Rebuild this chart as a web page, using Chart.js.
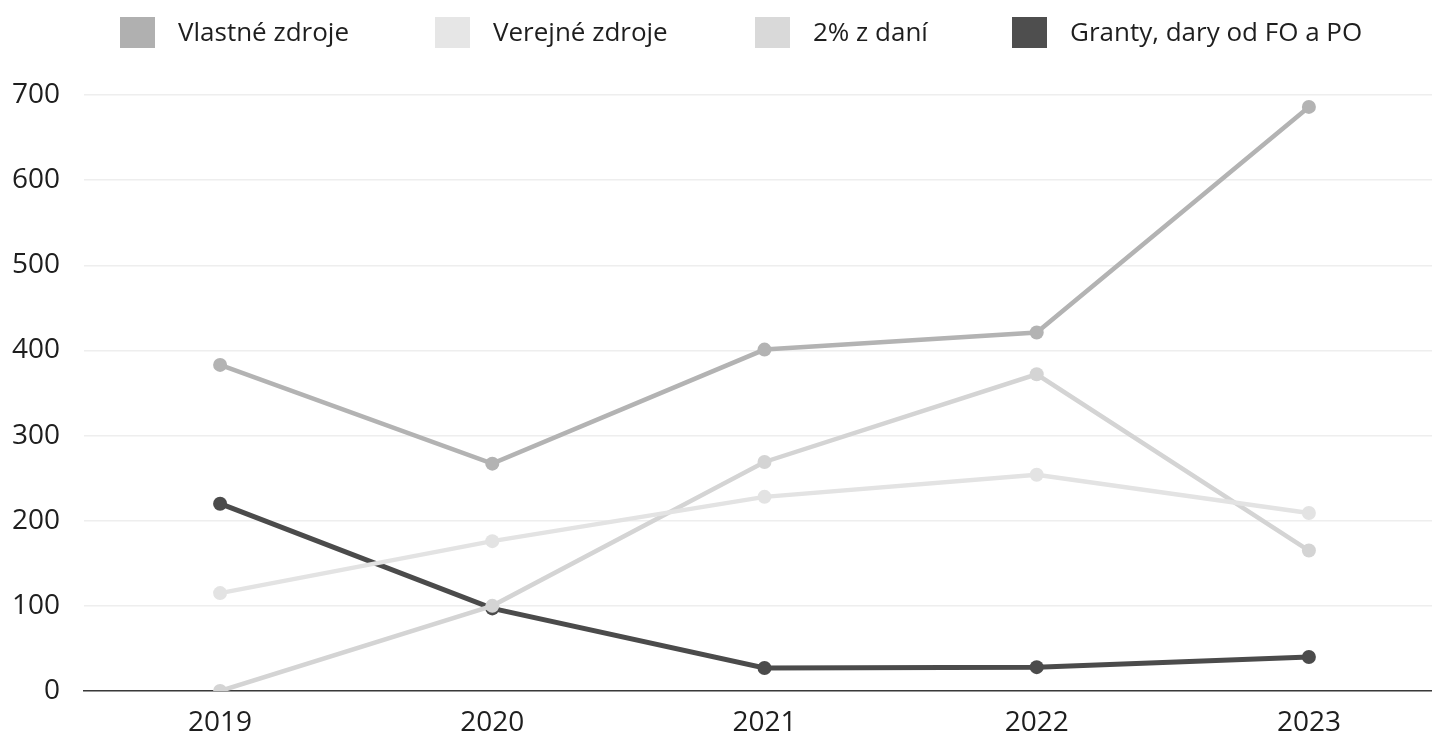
<!DOCTYPE html>
<html>
<head>
<meta charset="utf-8">
<script src="https://cdn.jsdelivr.net/npm/chart.js@4"></script>
<style>
html,body{margin:0;padding:0;background:#fff;overflow:hidden;}
#wrap{position:relative;width:1432px;height:737px;overflow:hidden;}
#c{position:absolute;left:0;top:0;}
#legend{position:absolute;left:0;top:0;width:1432px;height:60px;font-family:"Open Sans",sans-serif;font-size:26px;color:#1e1e1e;}
.li{position:absolute;top:0;height:60px;}
.li .bx{position:absolute;top:17px;left:0;width:35px;height:31px;}
.li .tx{position:absolute;left:58px;top:13px;white-space:nowrap;line-height:36px;}
</style>
</head>
<body>
<div id="wrap">
<canvas id="c" width="1452" height="737" style="width:1452px;height:737px;"></canvas>
<div id="legend"></div>
</div>
<script>
const years = ["2019","2020","2021","2022","2023"];
const seriesNames = ["Vlastné zdroje","Verejné zdroje","2% z daní","Granty, dary od FO a PO"];
const vlastne = [383, 267, 401, 421, 686];
const verejne = [115, 176, 228, 254, 209];
const dane2 = [0, 100, 269, 372, 165];
const granty = [220, 97, 27, 28, 40];
const yTicks = [0,100,200,300,400,500,600,700];
const lineColors = ['#b3b3b3','#e3e3e3','#d4d4d4','#4b4b4b'];
const boxColors = ['#b0b0b0','#e6e6e6','#d9d9d9','#4e4e4e'];
const legendX = [120, 435, 755, 1012];

function ds(label, data, color, w){
  return {label, data, borderColor: color, backgroundColor: color,
    pointBackgroundColor: color, pointBorderColor: color, pointBorderWidth: 0,
    borderWidth: w, pointRadius: 7, pointHoverRadius: 7, tension: 0};
}

const chart = new Chart(document.getElementById('c'), {
  type: 'line',
  data: {
    labels: years,
    datasets: [
      ds(seriesNames[0], vlastne, lineColors[0], 4.5),
      ds(seriesNames[1], verejne, lineColors[1], 4.5),
      ds(seriesNames[2], dane2, lineColors[2], 4.5),
      ds(seriesNames[3], granty, lineColors[3], 5)
    ]
  },
  options: {
    responsive: false,
    animation: false,
    layout: {padding: {left: 0, right: 0, top: 95, bottom: 0}},
    plugins: {
      tooltip: {enabled: false},
      legend: {display: false}
    },
    scales: {
      x: {
        offset: true,
        grid: {display: false},
        border: {display: true, color: '#3a3a3a', width: 1.5},
        ticks: {color: '#1e1e1e', font: {family: 'Open Sans', size: 28}, padding: 7},
        afterFit: (s) => { s.height = 46; }
      },
      y: {
        min: 0, max: 700,
        afterBuildTicks: (s) => { s.ticks = yTicks.map(v => ({value: v})); },
        grid: {color: '#eeeeee', lineWidth: 1.5, drawTicks: false},
        border: {display: false},
        ticks: {color: '#1e1e1e', font: {family: 'Open Sans', size: 28}, padding: 24},
        afterFit: (s) => { s.width = 84; }
      }
    }
  }
});

const leg = document.getElementById('legend');
chart.data.datasets.forEach((d, i) => {
  const li = document.createElement('div');
  li.className = 'li';
  li.style.left = legendX[i] + 'px';
  const bx = document.createElement('div');
  bx.className = 'bx';
  bx.style.background = boxColors[i];
  const tx = document.createElement('div');
  tx.className = 'tx';
  tx.textContent = d.label;
  li.appendChild(bx); li.appendChild(tx);
  leg.appendChild(li);
});
</script>
</body>
</html>
